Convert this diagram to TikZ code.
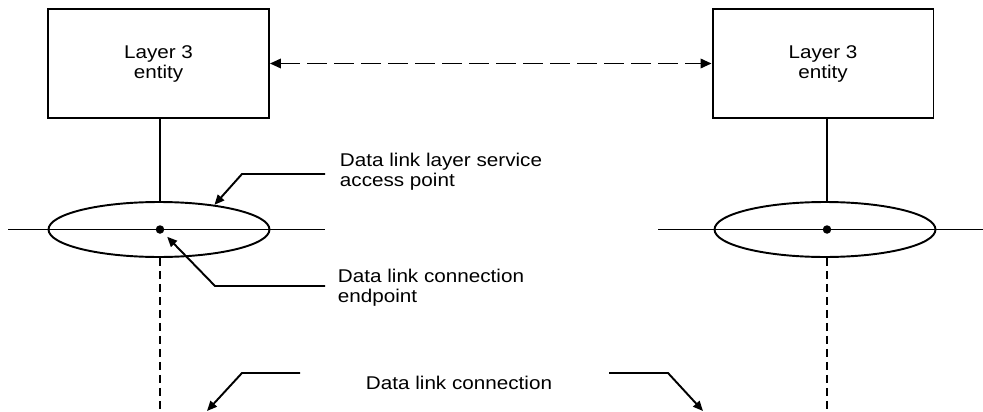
\documentclass[tikz,border=0pt]{standalone}
\usepackage{fontspec}
\setmainfont{Liberation Sans}[FakeStretch=1.12]
\usetikzlibrary{positioning,shapes.geometric,arrows.meta,calc}

\begin{document}
\begin{tikzpicture}[x=0.02cm,y=-0.02cm,line width=1.1pt,
  entity/.style={draw,minimum width=4.42cm,minimum height=2.18cm,align=center,
    font=\fontsize{10.5}{11.4}\selectfont},
  sap/.style={draw,ellipse,minimum width=4.42cm,minimum height=1.1cm,inner sep=0pt},
  cep/.style={circle,fill,inner sep=0pt,minimum size=0.17cm},
  lbl/.style={align=left,inner sep=0pt,font=\fontsize{10.5}{11.4}\selectfont},
  pointer/.style={-{Triangle[length=0.2cm,width=0.17cm]}},
  peer/.style={{Triangle[length=0.22cm,width=0.19cm]}-{Triangle[length=0.22cm,width=0.19cm]},
    dash pattern=on 0.4cm off 0.14cm},
  conn/.style={dash pattern=on 0.16cm off 0.1cm}]
\useasboundingbox (0,0) rectangle (983,412);

% layer 3 entities
\node[entity] (e1) at (158.5,63.5) {Layer 3\\entity};
\node[entity] (e2) at (823,63.5) {Layer 3\\entity};
\draw[peer] (e1.east) -- (e2.west);

% service access points
\node[sap] (s1) at (159,229.5) {};
\node[sap] (s2) at (825,229.5) {};
\node[cep] (p1) at (160,229.5) {};
\node[cep] (p2) at (827,229.5) {};

\coordinate (h1) at (8,229.5);
\coordinate (h2) at (325,229.5);
\coordinate (h3) at (658,229.5);
\coordinate (h4) at (983,229.5);
\draw (h1) -- (h2);
\draw (h3) -- (h4);

\draw (e1.south -| p1) -- (s1.north -| p1);
\draw (e2.south -| p2) -- (s2.north -| p2);
\draw[conn] (s1.south -| p1) -- ++(0,155);
\draw[conn] (s2.south -| p2) -- ++(0,155);

% labels
\node[lbl,anchor=west] (tsap) at (339,172) {Data link layer service\\access point};
\node[lbl,anchor=west] (tcep) at (337,287.5) {Data link connection\\endpoint};
\node[lbl] (tdlc) at (459,383) {Data link connection};

\draw[pointer] ($(tsap.west)+(-14,2)$) -- ++(-83,0) -- (s1.24);
\draw[pointer,shorten >=0.1cm] ($(tcep.west)+(-12,-1.5)$) -- ++(-110,0) -- (p1.south east);
\draw[pointer] ($(tdlc.west)+(-65,-10)$) -- ++(-58,0) -- ++(-35,38);
\draw[pointer] ($(tdlc.east)+(56,-10)$) -- ++(59,0) -- ++(35,38);

\end{tikzpicture}
\end{document}
